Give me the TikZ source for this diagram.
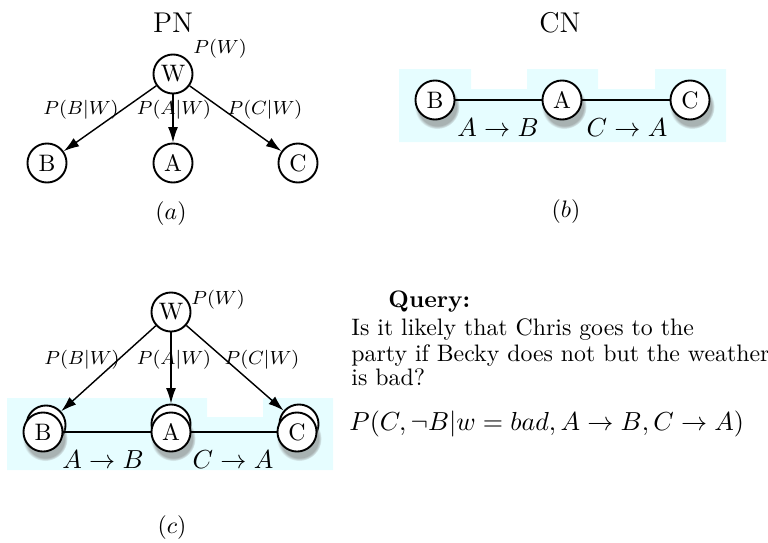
\documentclass[tikz,border=0pt]{standalone}
\usetikzlibrary{arrows.meta,shadows}
\definecolor{bluebg}{RGB}{230,253,255}
\begin{document}
\begin{tikzpicture}[x=0.42pt,y=-0.42pt,
  vert/.style={circle,draw,line width=0.8pt,fill=white,minimum size=16.4pt,inner sep=0pt},
  svert/.style={vert,circular drop shadow={shadow xshift=0.8pt,shadow yshift=-2.4pt,shadow scale=1.15,opacity=0.6}},
  pnarrow/.style={-{Latex[length=6.5pt,width=4.2pt]},line width=0.6pt},
  cnline/.style={line width=0.5pt},
  lab/.style={inner sep=1pt,font=\fontsize{8.3}{10}\selectfont},
  tr/.style={inner sep=1pt,font=\fontsize{10.5}{12}\selectfont},
  ttl/.style={font=\large},
  txt/.style={anchor=base west,inner sep=0pt}]
\useasboundingbox (0,0) rectangle (768,542);

% ---------- (a) PN ----------
\node[ttl] (pnt) at (173,23) {PN};
\node[vert] (aW) at (173,74) {W};
\node[vert] (aB) at (47,163) {B};
\node[vert] (aA) at (173,163) {A};
\node[vert] (aC) at (298,163) {C};
\draw[pnarrow] (aW) -- (aB);
\draw[pnarrow] (aW) -- (aA);
\draw[pnarrow] (aW) -- (aC);
\node[lab] (aPW) at (220,49) {$P(W)$};
\node[lab] (aPB) at (81,110) {$P(B|W)$};
\node[lab] (aPA) at (174,110) {$P(A|W)$};
\node[lab] (aPC) at (265,110) {$P(C|W)$};
\node (acap) at (171,214) {$(a)$};

% ---------- (b) CN ----------
\node[ttl] (cnt) at (560,23) {CN};
\fill[bluebg] (399,69) -- (471,69) -- (471,89) -- (527,89) -- (527,69) -- (598,69) -- (598,89) -- (655,89) -- (655,69) -- (726,69) -- (726,142) -- (399,142) -- cycle;
\node[svert] (bB) at (435,100) {B};
\node[svert] (bA) at (562,100) {A};
\node[svert] (bC) at (690,100) {C};
\draw[cnline] (bB) -- (bA);
\draw[cnline] (bA) -- (bC);
\node[tr] (bAB) at (498,128) {$A\rightarrow B$};
\node[tr] (bCA) at (627,128) {$C\rightarrow A$};
\node (bcap) at (566,212) {$(b)$};

% ---------- (c) combined ----------
\fill[bluebg] (7,398) -- (207,398) -- (207,417) -- (263,417) -- (263,398) -- (333,398) -- (333,470) -- (7,470) -- cycle;
\node[vert] (cW) at (171,312) {W};
\node[vert] (cBb) at (46,425) {};
\node[vert] (cAb) at (171,424) {};
\node[vert] (cCb) at (299,424) {};
\node[svert] (cB) at (43,432) {B};
\node[svert] (cA) at (171,432) {A};
\node[svert] (cC) at (297,432) {C};
\draw[pnarrow] (cW) -- (cBb);
\draw[pnarrow] (cW) -- (cAb);
\draw[pnarrow] (cW) -- (cCb);
\draw[cnline] (cB) -- (cA);
\draw[cnline] (cA) -- (cC);
\node[lab] (cPW) at (218,300) {$P(W)$};
\node[lab] (cPB) at (82,360) {$P(B|W)$};
\node[lab] (cPA) at (174,360) {$P(A|W)$};
\node[lab] (cPC) at (262,360) {$P(C|W)$};
\node[tr] (cAB) at (103,460) {$A\rightarrow B$};
\node[tr] (cCA) at (233,460) {$C\rightarrow A$};
\node (ccap) at (172,528) {$(c)$};

% ---------- Query ----------
\node[txt] (q0) at (388,307) {\textbf{Query:}};
\node[txt] (q1) at (351,335) {Is it likely that Chris goes to the};
\node[txt] (q2) at (351,361) {party if Becky does not but the weather};
\node[txt] (q3) at (351,385) {is bad?};
\node[txt,font=\fontsize{11.1}{13}\selectfont] (qf) at (349,430) {$P(C,\neg B|w=bad, A\rightarrow B, C\rightarrow A)$};
\end{tikzpicture}
\end{document}
